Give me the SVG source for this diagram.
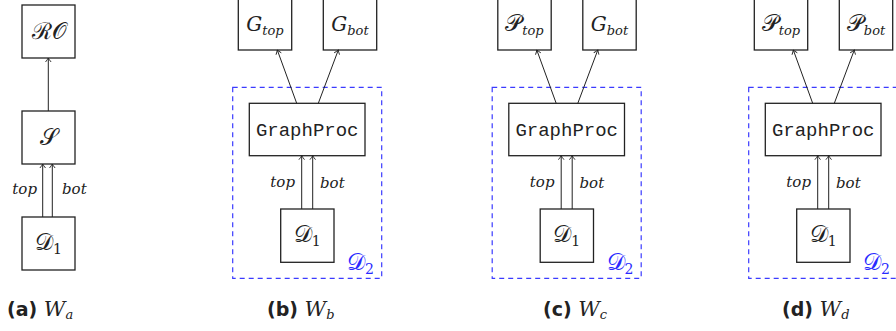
<svg xmlns="http://www.w3.org/2000/svg" width="896" height="331" viewBox="0 0 896 331">
  <style>
    .box { fill: #fff; stroke: #222; stroke-width: 1.3; }
    .grp { fill: none; stroke: #3b3bff; stroke-width: 1.2; stroke-dasharray: 5 4; }
    .edge { fill: none; stroke: #222; stroke-width: 1; marker-end: url(#tip); }
    .math { font-family: "DejaVu Serif", "Liberation Serif", serif; font-size: 23px; fill: #222; }
    .it { font-family: "DejaVu Serif", serif; font-style: italic; font-size: 20px; }
    .sub { font-family: "DejaVu Serif", serif; font-style: italic; font-size: 13px; }
    .num { font-family: "DejaVu Serif", serif; font-size: 14px; }
    .lbl { font-family: "DejaVu Serif", serif; font-style: italic; font-size: 15px; fill: #222; }
    .mono { font-family: "Liberation Mono", "DejaVu Sans Mono", monospace; font-size: 19px; fill: #222; }
    .cap { font-family: "DejaVu Sans", sans-serif; font-weight: bold; font-size: 19px; fill: #222; }
    .capm { font-family: "DejaVu Serif", serif; font-style: italic; font-weight: normal; font-size: 21px; }
    .blue { fill: #2a2aff; }
  </style>
  <defs>
    <marker id="tip" markerWidth="8" markerHeight="8" refX="6" refY="4" orient="auto" markerUnits="userSpaceOnUse">
      <path d="M2,1.2 Q4.5,3.2 6,4 Q4.5,4.8 2,6.8" fill="none" stroke="#222" stroke-width="0.9"/>
    </marker>
  </defs>

  <!-- (a) -->
  <g id="a-RO"><rect class="box" x="22" y="5" width="53" height="53"/><text class="math" x="48.5" y="39" text-anchor="middle">ℛ𝒪</text></g>
  <g id="a-S"><rect class="box" x="22" y="111" width="53" height="53"/><text class="math" x="48.5" y="145" text-anchor="middle">𝒮</text></g>
  <g id="a-D1"><rect class="box" x="22" y="217" width="53" height="53"/><text class="math" x="48.5" y="250" text-anchor="middle">𝒟<tspan class="num" dy="4">1</tspan></text></g>
  <g id="a-edges">
    <line class="edge" x1="48.3" y1="111" x2="48.3" y2="58"/>
    <line class="edge" x1="42.7" y1="217" x2="42.7" y2="164"/>
    <line class="edge" x1="52.3" y1="217" x2="52.3" y2="164"/>
    <text class="lbl" x="37" y="194" text-anchor="end">top</text>
    <text class="lbl" x="62" y="194">bot</text>
  </g>
  <text class="cap" x="7" y="316">(a) <tspan class="capm">W<tspan class="sub" dy="3">a</tspan></tspan></text>

  <!-- (b) -->
  <g id="b-D2"><rect class="grp" x="232.7" y="87.3" width="149" height="191"/><text class="math blue" x="347" y="270">𝒟<tspan class="num" dy="4">2</tspan></text></g>
  <g id="b-Gtop"><rect class="box" x="238.3" y="-3" width="53.4" height="53"/><text class="math" x="265" y="31" text-anchor="middle"><tspan class="it">G</tspan><tspan class="sub" dy="4">top</tspan></text></g>
  <g id="b-Gbot"><rect class="box" x="323.3" y="-3" width="53.4" height="53"/><text class="math" x="350" y="31" text-anchor="middle"><tspan class="it">G</tspan><tspan class="sub" dy="4">bot</tspan></text></g>
  <g id="b-GraphProc"><rect class="box" x="249.3" y="103.3" width="115.7" height="52.4"/><text class="mono" x="307.2" y="136" text-anchor="middle">GraphProc</text></g>
  <g id="b-D1"><rect class="box" x="280.7" y="209" width="53.3" height="53.3"/><text class="math" x="307.3" y="242" text-anchor="middle">𝒟<tspan class="num" dy="4">1</tspan></text></g>
  <g id="b-edges">
    <line class="edge" x1="296.7" y1="103.3" x2="277.3" y2="50"/>
    <line class="edge" x1="318.3" y1="103.3" x2="338.3" y2="50"/>
    <line class="edge" x1="301.7" y1="209" x2="301.7" y2="155.7"/>
    <line class="edge" x1="312.7" y1="209" x2="312.7" y2="155.7"/>
    <text class="lbl" x="295" y="187" text-anchor="end">top</text>
    <text class="lbl" x="320" y="188">bot</text>
  </g>
  <text class="cap" x="267" y="316">(b) <tspan class="capm">W<tspan class="sub" dy="3">b</tspan></tspan></text>

  <!-- (c) -->
  <g transform="translate(259.5,0)">
    <g id="c-D2"><rect class="grp" x="232.7" y="87.3" width="149" height="191"/><text class="math blue" x="347" y="270">𝒟<tspan class="num" dy="4">2</tspan></text></g>
    <g id="c-Ptop"><rect class="box" x="238.3" y="-3" width="53.4" height="53"/><text class="math" x="265" y="31" text-anchor="middle">𝒫<tspan class="sub" dy="4">top</tspan></text></g>
    <g id="c-Gbot"><rect class="box" x="323.3" y="-3" width="53.4" height="53"/><text class="math" x="350" y="31" text-anchor="middle"><tspan class="it">G</tspan><tspan class="sub" dy="4">bot</tspan></text></g>
    <g id="c-GraphProc"><rect class="box" x="249.3" y="103.3" width="115.7" height="52.4"/><text class="mono" x="307.2" y="136" text-anchor="middle">GraphProc</text></g>
    <g id="c-D1"><rect class="box" x="280.7" y="209" width="53.3" height="53.3"/><text class="math" x="307.3" y="242" text-anchor="middle">𝒟<tspan class="num" dy="4">1</tspan></text></g>
    <g id="c-edges">
      <line class="edge" x1="296.7" y1="103.3" x2="277.3" y2="50"/>
      <line class="edge" x1="318.3" y1="103.3" x2="338.3" y2="50"/>
      <line class="edge" x1="301.7" y1="209" x2="301.7" y2="155.7"/>
      <line class="edge" x1="312.7" y1="209" x2="312.7" y2="155.7"/>
      <text class="lbl" x="295" y="187" text-anchor="end">top</text>
      <text class="lbl" x="320" y="188">bot</text>
    </g>
  </g>
  <text class="cap" x="543" y="316">(c) <tspan class="capm">W<tspan class="sub" dy="3">c</tspan></tspan></text>

  <!-- (d) -->
  <g transform="translate(516,0)">
    <g id="d-D2"><rect class="grp" x="232.7" y="87.3" width="149" height="191"/><text class="math blue" x="347" y="270">𝒟<tspan class="num" dy="4">2</tspan></text></g>
    <g id="d-Ptop"><rect class="box" x="238.3" y="-3" width="53.4" height="53"/><text class="math" x="265" y="31" text-anchor="middle">𝒫<tspan class="sub" dy="4">top</tspan></text></g>
    <g id="d-Pbot"><rect class="box" x="323.3" y="-3" width="53.4" height="53"/><text class="math" x="350" y="31" text-anchor="middle">𝒫<tspan class="sub" dy="4">bot</tspan></text></g>
    <g id="d-GraphProc"><rect class="box" x="249.3" y="103.3" width="115.7" height="52.4"/><text class="mono" x="307.2" y="136" text-anchor="middle">GraphProc</text></g>
    <g id="d-D1"><rect class="box" x="280.7" y="209" width="53.3" height="53.3"/><text class="math" x="307.3" y="242" text-anchor="middle">𝒟<tspan class="num" dy="4">1</tspan></text></g>
    <g id="d-edges">
      <line class="edge" x1="296.7" y1="103.3" x2="277.3" y2="50"/>
      <line class="edge" x1="318.3" y1="103.3" x2="338.3" y2="50"/>
      <line class="edge" x1="301.7" y1="209" x2="301.7" y2="155.7"/>
      <line class="edge" x1="312.7" y1="209" x2="312.7" y2="155.7"/>
      <text class="lbl" x="295" y="187" text-anchor="end">top</text>
      <text class="lbl" x="320" y="188">bot</text>
    </g>
  </g>
  <text class="cap" x="782" y="316">(d) <tspan class="capm">W<tspan class="sub" dy="3">d</tspan></tspan></text>
</svg>
